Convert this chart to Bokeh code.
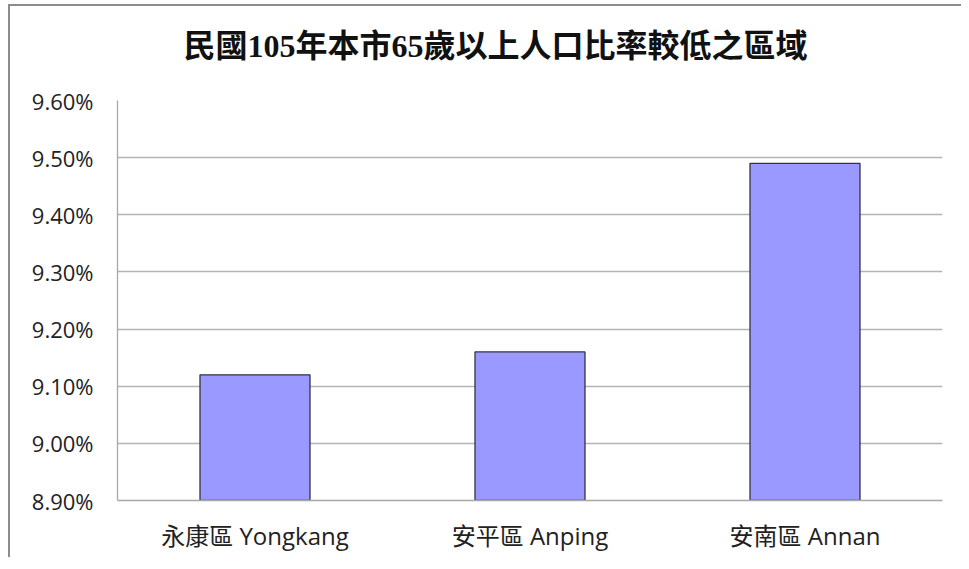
from bokeh.plotting import figure
from bokeh.models import FixedTicker, PrintfTickFormatter, Range1d, ColumnDataSource, Title
from bokeh.embed import file_html
from bokeh.resources import INLINE

districts = ["永康區 Yongkang", "安平區 Anping", "安南區 Annan"]
ratios = [9.12, 9.16, 9.49]
y_ticks = [8.90, 9.00, 9.10, 9.20, 9.30, 9.40, 9.50, 9.60]
title_text = "民國105年本市65歲以上人口比率較低之區域"

source = ColumnDataSource(dict(x=districts, top=ratios))

p = figure(x_range=districts, y_range=Range1d(y_ticks[0], y_ticks[-1]),
           width=953, height=553, output_backend="svg", toolbar_location=None,
           min_border_left=107, min_border_right=21, min_border_top=0, min_border_bottom=59)
p.styles = {"border-left": "2px solid #8c8c8c", "border-top": "2px solid #8c8c8c",
            "margin-left": "8px", "margin-top": "4px"}

p.title.text = title_text
p.title.align = "left"
p.title.vertical_align = "top"
p.title.text_font = "Liberation Serif, Noto Sans CJK TC"
p.title.text_font_size = "32px"
p.title.text_font_style = "bold"
p.title.text_color = "#111111"
p.title.offset = 66
p.title.standoff = 42

spacer = Title(text=" ", text_font_size="1px", standoff=11)
p.add_layout(spacer, "above")

p.vbar(x="x", top="top", bottom=y_ticks[0], width=0.4, source=source,
       fill_color="#9999ff", line_color="#333344", line_width=1.3)

p.outline_line_color = None
p.xgrid.grid_line_color = None
p.ygrid.grid_line_color = "#b4b4b4"
p.ygrid.grid_line_width = 1.3

p.yaxis.ticker = FixedTicker(ticks=y_ticks)
p.yaxis.formatter = PrintfTickFormatter(format="%.2f%%")
p.yaxis.axis_line_color = "#a8a8a8"
p.yaxis.axis_line_width = 1.3
p.yaxis.major_tick_line_color = None
p.yaxis.minor_tick_line_color = None
p.yaxis.major_tick_out = 0
p.yaxis.major_label_standoff = 24
p.yaxis.major_label_text_font = "Open Sans"
p.yaxis.major_label_text_font_size = "22px"
p.yaxis.major_label_text_color = "#222222"

p.xaxis.axis_line_color = "#a8a8a8"
p.xaxis.axis_line_width = 1.5
p.xaxis.major_tick_line_color = None
p.xaxis.major_tick_out = 0
p.xaxis.major_label_standoff = 18
p.xaxis.major_label_text_font = "Open Sans, Noto Sans CJK TC"
p.xaxis.major_label_text_font_size = "24px"
p.xaxis.major_label_text_color = "#222222"

p.background_fill_color = "white"
p.border_fill_color = "white"

open("out.html", "w").write(file_html(p, INLINE))
